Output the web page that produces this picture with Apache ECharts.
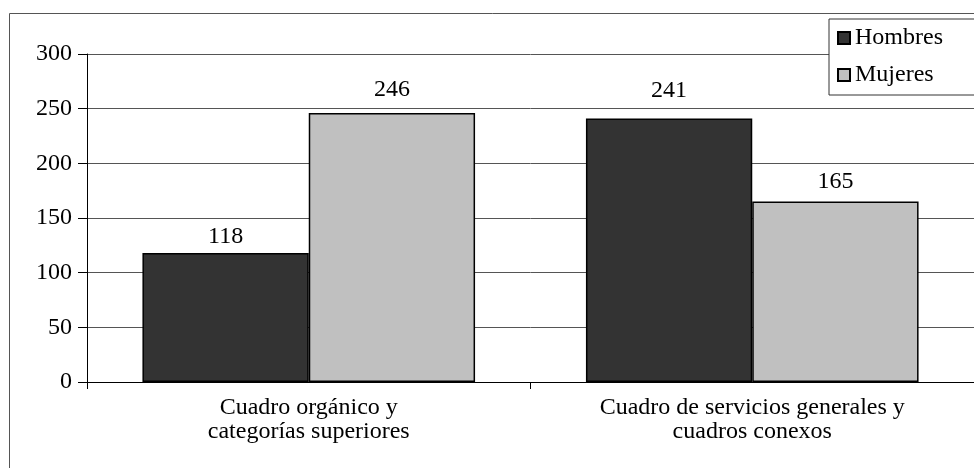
<!DOCTYPE html>
<html><head><meta charset="utf-8">
<script src="https://cdn.jsdelivr.net/npm/echarts@6/dist/echarts.min.js"></script>
<style>html,body{margin:0;padding:0;background:#fff}#c{width:974px;height:468px}</style>
</head><body><div id="c"></div>
<script>
const categories = ['Cuadro orgánico y\ncategorías superiores', 'Cuadro de servicios generales y\ncuadros conexos'];
const seriesNames = ['Hombres', 'Mujeres'];
const hombres = [118, 241];
const mujeres = [246, 165];
const colors = ['#333333', '#c0c0c0'];
const font = 'Liberation Serif, Times New Roman, serif';

// per-bar label gaps as in the original layout
const labelGapH = [4, 16];
const labelGapM = [11, 8];

const labelBase = { show: true, position: 'top', fontFamily: font, fontSize: 24, color: '#000' };
function items(values, gaps) {
  return values.map((v, i) => ({ value: v, label: Object.assign({}, labelBase, { distance: gaps[i] }) }));
}

const chart = echarts.init(document.getElementById('c'));
chart.setOption({
  animation: false,
  backgroundColor: '#fff',
  graphic: [{ type: 'rect', shape: { x: 9.5, y: 13.5, width: 1000, height: 500 }, style: { fill: 'none', stroke: '#555', lineWidth: 1 }, z: 0 }],
  grid: { left: 87, top: 54, right: -5, bottom: 86, containLabel: false },
  legend: {
    orient: 'vertical', left: 829, top: 19,
    padding: [7, 80, 8, 8], itemGap: 13,
    itemWidth: 12, itemHeight: 12, icon: 'rect',
    borderColor: '#333', borderWidth: 1, backgroundColor: '#fff',
    textStyle: { fontFamily: font, fontSize: 24, color: '#000', padding: [0, 0, 0, 0] },
    data: seriesNames
  },
  xAxis: {
    type: 'category', data: categories,
    axisLine: { lineStyle: { color: '#000', width: 1 } },
    axisTick: { show: true, length: 7, lineStyle: { color: '#000' } },
    axisLabel: { fontFamily: font, fontSize: 24, color: '#000', margin: 14, lineHeight: 24 }
  },
  yAxis: {
    type: 'value', min: 0, max: 300, interval: 50,
    axisLine: { show: true, lineStyle: { color: '#000', width: 1 } },
    axisTick: { show: true, length: 9, lineStyle: { color: '#000' } },
    axisLabel: { fontFamily: font, fontSize: 24, color: '#000', margin: 15 },
    splitLine: { lineStyle: { color: '#555', width: 1 } }
  },
  series: [
    { name: seriesNames[0], type: 'bar', data: items(hombres, labelGapH), barGap: '0%', barCategoryGap: '25%',
      itemStyle: { color: colors[0], borderColor: '#000', borderWidth: 1.5 }, label: labelBase },
    { name: seriesNames[1], type: 'bar', data: items(mujeres, labelGapM), barGap: '0%', barCategoryGap: '25%',
      itemStyle: { color: colors[1], borderColor: '#000', borderWidth: 1.5 }, label: labelBase }
  ]
});
</script></body></html>
